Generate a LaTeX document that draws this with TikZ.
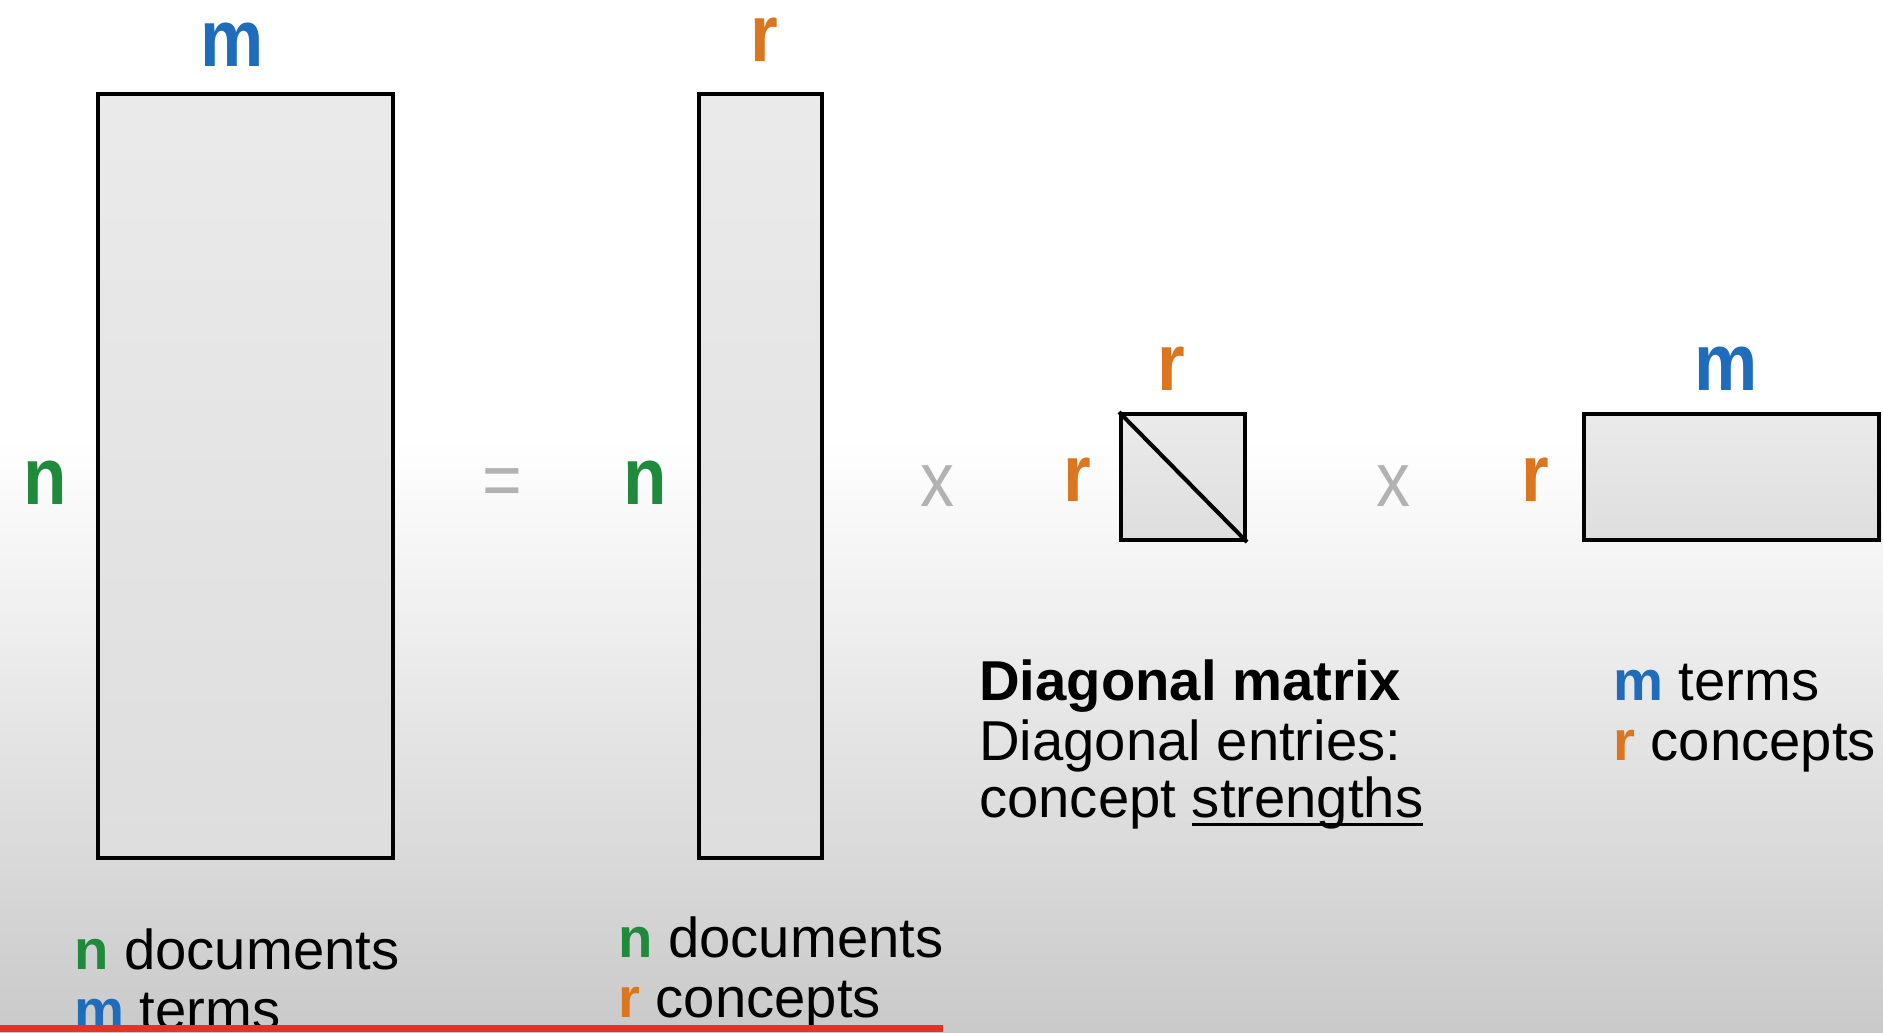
\documentclass[tikz,border=0pt]{standalone}
\usepackage{fontspec}
\setmainfont{Liberation Sans}
\newfontfamily\lblfont[FakeStretch=0.88]{Liberation Sans}
\definecolor{docgreen}{HTML}{1E8A3A}
\definecolor{termblue}{HTML}{1F6CBD}
\definecolor{concorange}{HTML}{DA761F}
\definecolor{opgray}{HTML}{B2B2B2}
\definecolor{barred}{HTML}{E8302A}
\newcommand{\nn}{\textcolor{docgreen}{\textbf{n}}}
\newcommand{\mm}{\textcolor{termblue}{\textbf{m}}}
\newcommand{\rr}{\textcolor{concorange}{\textbf{r}}}
\newcommand{\thickul}[1]{\setbox0\hbox{#1}\rlap{\rule[-5pt]{\wd0}{1.4pt}}#1}
\tikzset{
  mat/.style={draw=black,line width=2.3pt,inner sep=0pt,anchor=north west,
    top color=black!8,bottom color=black!13},
  dimlbl/.style={font=\lblfont\fontsize{46}{46}\selectfont\bfseries,anchor=base,inner sep=0pt},
  oplbl/.style={font=\lblfont\fontsize{44}{44}\selectfont,text=opgray,anchor=base,inner sep=0pt},
  txt/.style={font=\fontsize{32}{38}\selectfont,anchor=base west,inner sep=0pt},
}
\begin{document}
\begin{tikzpicture}[x=0.02cm,y=-0.02cm]
\def\px{0.02cm}
\useasboundingbox (0,0) rectangle (1883,1032);
% background
\fill[white] (0,0) rectangle (1883,440);
\shade[top color=white,bottom color=black!21] (0,440) rectangle (1883,1032);
% the four matrices
\node[mat,minimum width={295*\px},minimum height={764*\px}] (A) at (96,92) {};
\node[mat,minimum width={123*\px},minimum height={764*\px}] (U) at (697,92) {};
\node[mat,minimum width={124*\px},minimum height={126*\px}] (S) at (1119,412) {};
\node[mat,minimum width={295*\px},minimum height={126*\px}] (V) at (1582,412) {};
\draw[line width=2.3pt] (S.north west) -- (S.south east);
% dimensions
\node[dimlbl,text=termblue] (Am) at (232,66) {m};
\node[dimlbl,text=docgreen] (An) at (45,504) {n};
\node[dimlbl,text=concorange] (Ur) at (764,61) {r};
\node[dimlbl,text=docgreen] (Un) at (645,504) {n};
\node[dimlbl,text=concorange] (Sr) at (1171,390) {r};
\node[dimlbl,text=concorange] (Sl) at (1077,501) {r};
\node[dimlbl,text=termblue] (Vm) at (1726,390) {m};
\node[dimlbl,text=concorange] (Vr) at (1535,501) {r};
% operators
\node[oplbl] (eq) at (502,506) {=};
\node[oplbl] (x1) at (937,506) {x};
\node[oplbl] (x2) at (1393,506) {x};
% captions
\node[txt] (a1) at (74,969) {\nn{} documents};
\node[txt] (a2) at (74,1029) {\mm{} terms};
\node[txt] (u1) at (618,957) {\nn{} documents};
\node[txt] (u2) at (618,1017) {\rr{} concepts};
\node[txt] (s1) at (979,700) {\textbf{Diagonal matrix}};
\node[txt] (s2) at (979,760) {Diagonal entries:};
\node[txt] (s3) at (979,817) {concept \thickul{strengths}};
\node[txt] (v1) at (1613,700) {\mm{} terms};
\node[txt] (v2) at (1613,760) {\rr{} concepts};
% progress bar
\fill[barred] (0,1025) rectangle (943,1032);
\end{tikzpicture}
\end{document}
